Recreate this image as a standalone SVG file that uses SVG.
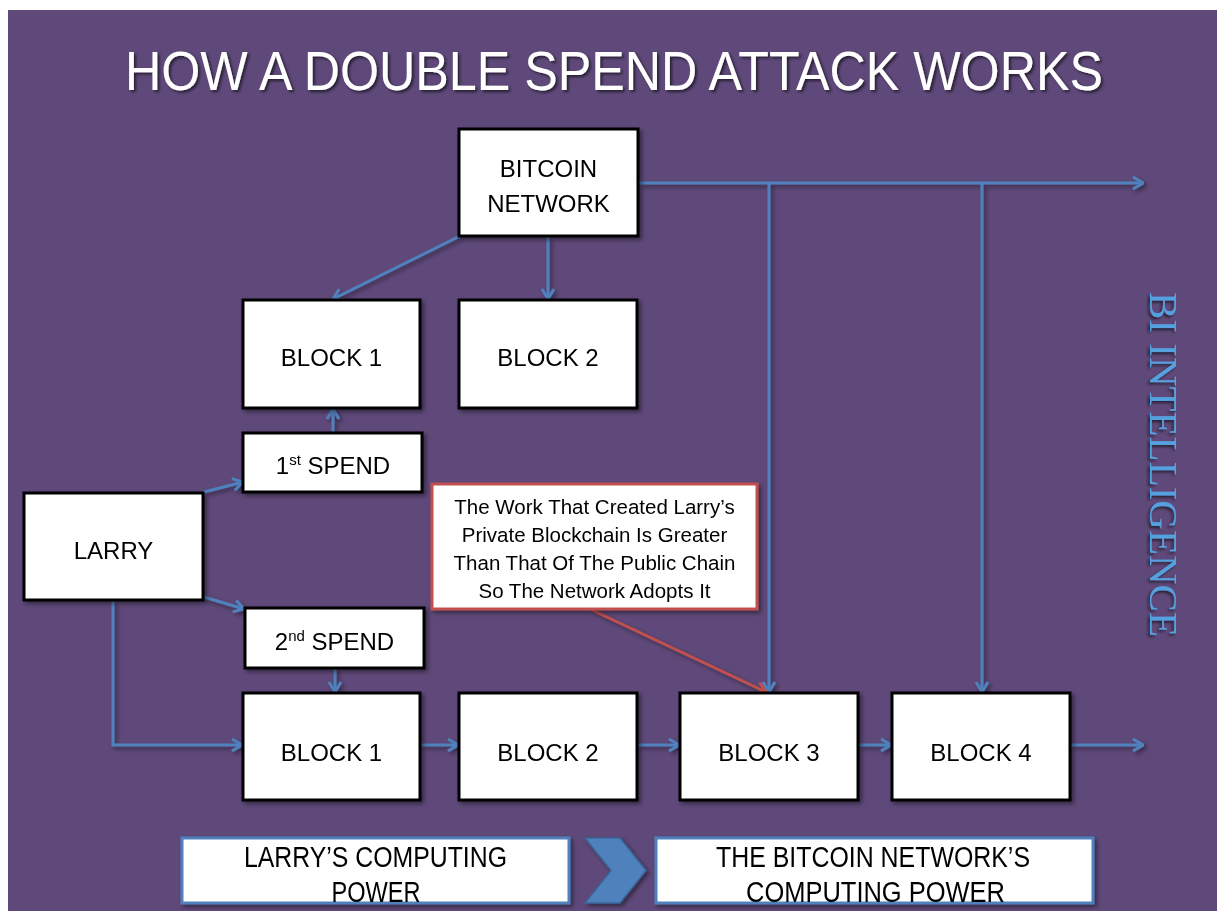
<svg xmlns="http://www.w3.org/2000/svg" width="1217" height="911" viewBox="0 0 1217 911">
<defs>
  <filter id="sh" x="-10%" y="-10%" width="130%" height="130%">
    <feDropShadow dx="2.5" dy="2.5" stdDeviation="2" flood-color="#000" flood-opacity="0.45"/>
  </filter>
  <filter id="tsh" x="-5%" y="-20%" width="110%" height="140%">
    <feDropShadow dx="2" dy="2" stdDeviation="1.5" flood-color="#000" flood-opacity="0.6"/>
  </filter>
  <marker id="ab" viewBox="0 0 12 14" refX="11" refY="7" markerWidth="12" markerHeight="14" markerUnits="userSpaceOnUse" orient="auto">
    <path d="M1,1 L11,7 L1,13" fill="none" stroke="#4F81BD" stroke-width="3"/>
  </marker>
  <marker id="ar" viewBox="0 0 12 14" refX="11" refY="7" markerWidth="12" markerHeight="14" markerUnits="userSpaceOnUse" orient="auto">
    <path d="M1,1 L11,7 L1,13" fill="none" stroke="#C0504D" stroke-width="3"/>
  </marker>
  <style>
    .box { fill: #fff; stroke: #000; stroke-width: 3; }
    .lbl { font-family: "Liberation Sans", Arial, sans-serif; font-size: 24px; fill: #000; text-anchor: middle; }
    .con { fill: none; stroke: #4F81BD; stroke-width: 3; marker-end: url(#ab); }
    .red { fill: none; stroke: #C0504D; stroke-width: 3; marker-end: url(#ar); }
    .callout { fill: #fff; stroke: #C0504D; stroke-width: 3; }
    .ctext { font-family: "Liberation Sans", Arial, sans-serif; font-size: 20.5px; fill: #000; text-anchor: middle; }
    .pbox { fill: #fff; stroke: #4F81BD; stroke-width: 3; }
    .ptext { font-family: "Liberation Sans", Arial, sans-serif; font-size: 29px; fill: #000; text-anchor: middle; }
  </style>
</defs>

<rect x="0" y="0" width="1217" height="911" fill="#fff"/>
<rect x="8" y="10" width="1209" height="901" fill="#5F497A"/>

<text x="614" y="90" font-family="'Liberation Sans', Arial, sans-serif" font-size="56" fill="#fff" text-anchor="middle" textLength="978" lengthAdjust="spacingAndGlyphs" filter="url(#tsh)">HOW A DOUBLE SPEND ATTACK WORKS</text>

<text transform="translate(1150,292) rotate(90)" font-family="'Liberation Serif', 'Times New Roman', serif" font-size="41" fill="#55A0DF" filter="url(#tsh)">BI INTELLIGENCE</text>

<g id="connectors" filter="url(#sh)">
  <line class="con" x1="460" y1="236" x2="333" y2="299"/>
  <line class="con" x1="548" y1="237" x2="548" y2="299"/>
  <line class="con" x1="639" y1="183" x2="1143" y2="183"/>
  <line class="con" x1="769" y1="183" x2="769" y2="692"/>
  <line class="con" x1="982" y1="183" x2="982" y2="692"/>
  <line class="con" x1="333" y1="432" x2="333" y2="409"/>
  <line class="con" x1="204" y1="492" x2="243" y2="482"/>
  <line class="con" x1="204" y1="597" x2="244" y2="609"/>
  <line class="con" x1="335" y1="668" x2="335" y2="692"/>
  <polyline class="con" points="113,601 113,745 242,745"/>
  <line class="con" x1="421" y1="745" x2="458" y2="745"/>
  <line class="con" x1="638" y1="745" x2="679" y2="745"/>
  <line class="con" x1="859" y1="745" x2="891" y2="745"/>
  <line class="con" x1="1071" y1="745" x2="1143" y2="745"/>
  <line class="red" x1="592" y1="610" x2="766" y2="692"/>
</g>

<g id="bitcoin-network" filter="url(#sh)">
  <rect class="box" x="459" y="129" width="179" height="107"/>
  <text class="lbl" x="548.5" y="177">BITCOIN</text>
  <text class="lbl" x="548.5" y="212">NETWORK</text>
</g>
<g id="block1-top" filter="url(#sh)">
  <rect class="box" x="243" y="300" width="177" height="108"/>
  <text class="lbl" x="331.5" y="366">BLOCK 1</text>
</g>
<g id="block2-top" filter="url(#sh)">
  <rect class="box" x="459" y="300" width="178" height="108"/>
  <text class="lbl" x="548" y="366">BLOCK 2</text>
</g>
<g id="first-spend" filter="url(#sh)">
  <rect class="box" x="243" y="433" width="179" height="59"/>
  <text class="lbl" x="333" y="474">1<tspan font-size="15" dy="-9">st</tspan><tspan dy="9"> SPEND</tspan></text>
</g>
<g id="larry" filter="url(#sh)">
  <rect class="box" x="24" y="493" width="179" height="107"/>
  <text class="lbl" x="113.5" y="559">LARRY</text>
</g>
<g id="second-spend" filter="url(#sh)">
  <rect class="box" x="245" y="608" width="179" height="60"/>
  <text class="lbl" x="334.5" y="650">2<tspan font-size="15" dy="-9">nd</tspan><tspan dy="9"> SPEND</tspan></text>
</g>
<g id="callout" filter="url(#sh)">
  <rect class="callout" x="432" y="484" width="325" height="125"/>
  <text class="ctext" x="594.5" y="514">The Work That Created Larry’s</text>
  <text class="ctext" x="594.5" y="542">Private Blockchain Is Greater</text>
  <text class="ctext" x="594.5" y="570">Than That Of The Public Chain</text>
  <text class="ctext" x="594.5" y="598">So The Network Adopts It</text>
</g>
<g id="block1-bottom" filter="url(#sh)">
  <rect class="box" x="243" y="693" width="177" height="107"/>
  <text class="lbl" x="331.5" y="761">BLOCK 1</text>
</g>
<g id="block2-bottom" filter="url(#sh)">
  <rect class="box" x="459" y="693" width="178" height="107"/>
  <text class="lbl" x="548" y="761">BLOCK 2</text>
</g>
<g id="block3" filter="url(#sh)">
  <rect class="box" x="680" y="693" width="178" height="107"/>
  <text class="lbl" x="769" y="761">BLOCK 3</text>
</g>
<g id="block4" filter="url(#sh)">
  <rect class="box" x="892" y="693" width="178" height="107"/>
  <text class="lbl" x="981" y="761">BLOCK 4</text>
</g>

<g id="larry-power" filter="url(#sh)">
  <rect class="pbox" x="182" y="838" width="387" height="65"/>
  <text class="ptext" x="375.5" y="867" textLength="263" lengthAdjust="spacingAndGlyphs">LARRY’S COMPUTING</text>
  <text class="ptext" x="376" y="902" textLength="89" lengthAdjust="spacingAndGlyphs">POWER</text>
</g>
<g id="chevron" filter="url(#sh)">
  <polygon points="585,838 620,838 646,870.5 620,903 585,903 611,870.5" fill="#4F81BD" stroke="#3A6599" stroke-width="1.5"/>
</g>
<g id="network-power" filter="url(#sh)">
  <rect class="pbox" x="656" y="838" width="437" height="65"/>
  <text class="ptext" x="873" y="867" textLength="314" lengthAdjust="spacingAndGlyphs">THE BITCOIN NETWORK’S</text>
  <text class="ptext" x="875.5" y="902" textLength="259" lengthAdjust="spacingAndGlyphs">COMPUTING POWER</text>
</g>
</svg>
